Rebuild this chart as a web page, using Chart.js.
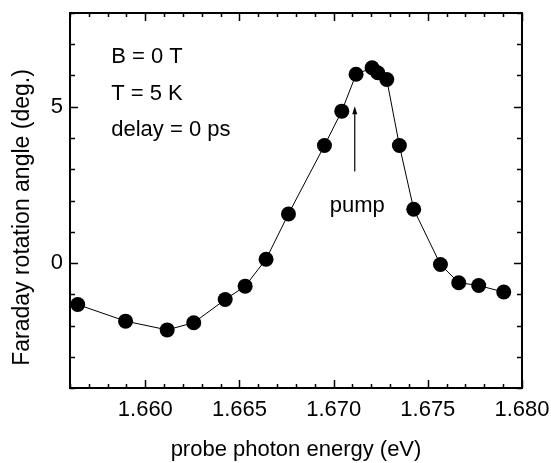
<!DOCTYPE html>
<html>
<head>
<meta charset="utf-8">
<script src="https://cdn.jsdelivr.net/npm/chart.js@4.4.0/dist/chart.umd.min.js"></script>
<style>
  html, body { margin: 0; padding: 0; background: #fff; }
  #wrap { width: 551px; height: 463px; }
</style>
</head>
<body>
<div id="wrap"><canvas id="faradayChart"></canvas></div>
<script>
// probe photon energy (eV)
var energy = [1.65641, 1.65895, 1.66116, 1.66257, 1.66424, 1.66530, 1.66641, 1.66760,
              1.66951, 1.67043, 1.67119, 1.67204, 1.67234, 1.67282, 1.67349, 1.67425,
              1.67567, 1.67664, 1.67770, 1.67903];
// Faraday rotation angle (deg.)
var rotation = [-1.33, -1.86, -2.14, -1.91, -1.17, -0.74, 0.12, 1.57,
                3.76, 4.86, 6.04, 6.25, 6.09, 5.87, 3.76, 1.72,
                -0.05, -0.63, -0.72, -0.93];

var xTicks = [1.660, 1.665, 1.670, 1.675, 1.680];
var yTicks = [0, 5];
var infoLines = ["B = 0 T", "T = 5 K", "delay = 0 ps"];
var pumpEnergy = 1.67112;
var yTitle = 'Faraday rotation angle (deg.)';

var FONT = "'Liberation Sans', Arial, Helvetica, sans-serif";

// frame, inward ticks and annotations
var framePlugin = {
    id: 'frame',
    afterDraw: function (chart) {
        var ctx = chart.ctx;
        var a = chart.chartArea;
        var xs = chart.scales.x, ys = chart.scales.y;
        ctx.save();
        ctx.strokeStyle = '#000';

        // ticks
        ctx.lineWidth = 1.5;
        ctx.beginPath();
        for (var i = 0; i <= 24; i++) {
            var v = 1.656 + i * 0.001;
            var px = Math.round(xs.getPixelForValue(v)) + 0.5;
            var major = (Math.round(v * 1000) % 5 === 0);
            var len = major ? 8 : 4;
            ctx.moveTo(px, a.bottom); ctx.lineTo(px, a.bottom - len);
            ctx.moveTo(px, a.top); ctx.lineTo(px, a.top + len);
        }
        for (var j = -4; j <= 8; j++) {
            var py = Math.round(ys.getPixelForValue(j)) + 0.5;
            var len2 = (j % 5 === 0) ? 8 : 5;
            ctx.moveTo(a.left, py); ctx.lineTo(a.left + len2, py);
            ctx.moveTo(a.right, py); ctx.lineTo(a.right - len2, py);
        }
        ctx.stroke();

        // frame
        ctx.lineWidth = 2;
        ctx.strokeRect(a.left, a.top, a.right - a.left, a.bottom - a.top);

        // pump arrow
        var ax = xs.getPixelForValue(pumpEnergy);
        var yTop = ys.getPixelForValue(5.02);
        var yBot = ys.getPixelForValue(2.93);
        ctx.lineWidth = 1.2;
        ctx.beginPath();
        ctx.moveTo(ax, yBot); ctx.lineTo(ax, yTop + 6);
        ctx.stroke();
        ctx.fillStyle = '#000';
        ctx.beginPath();
        ctx.moveTo(ax, yTop);
        ctx.lineTo(ax - 2.5, yTop + 8);
        ctx.lineTo(ax + 2.5, yTop + 8);
        ctx.closePath();
        ctx.fill();

        // texts
        ctx.font = '22px ' + FONT;
        ctx.textBaseline = 'alphabetic';
        ctx.textAlign = 'center';
        ctx.fillText('pump', xs.getPixelForValue(1.67125), ys.getPixelForValue(1.62));
        ctx.textAlign = 'left';
        var tx = xs.getPixelForValue(1.65819);
        for (var k = 0; k < infoLines.length; k++) {
            ctx.fillText(infoLines[k], tx, ys.getPixelForValue(6.41 - k * 1.18));
        }

        // y axis title (sits a bit below the plot centre in the original)
        ctx.translate(22.5, (a.top + a.bottom) / 2 + 17);
        ctx.rotate(-Math.PI / 2);
        ctx.font = '23px ' + FONT;
        ctx.textAlign = 'center';
        ctx.textBaseline = 'middle';
        ctx.fillText(yTitle, 0, 0);
        ctx.restore();
    }
};

var ctx = document.getElementById('faradayChart').getContext('2d');

var chart = new Chart(ctx, {
    type: 'line',
    data: {
        datasets: [{
            data: energy.map(function (e, i) { return { x: e, y: rotation[i] }; }),
            borderColor: '#000',
            borderWidth: 1,
            backgroundColor: '#000',
            pointBackgroundColor: '#000',
            pointBorderColor: '#000',
            pointRadius: 7.5,
            pointBorderWidth: 0,
            tension: 0,
            fill: false
        }]
    },
    options: {
        responsive: true,
        maintainAspectRatio: false,
        animation: false,
        events: [],
        layout: { padding: { top: 13, right: 29, left: 0, bottom: 0 } },
        plugins: {
            legend: { display: false },
            tooltip: { enabled: false }
        },
        scales: {
            x: {
                type: 'linear',
                min: 1.656,
                max: 1.680,
                grid: { display: false, drawTicks: false },
                border: { display: false },
                afterBuildTicks: function (scale) {
                    scale.ticks = xTicks.map(function (v) { return { value: v }; });
                },
                afterFit: function (scale) {
                    scale.height = 75;
                    scale.paddingLeft = 0;
                    scale.paddingRight = 0;
                },
                ticks: {
                    color: '#000',
                    padding: 9,
                    maxRotation: 0,
                    autoSkip: false,
                    font: { size: 22, family: FONT },
                    callback: function (v) { return Number(v).toFixed(3); }
                },
                title: {
                    display: true,
                    text: 'probe photon energy (eV)',
                    color: '#000',
                    padding: { top: 0, bottom: 0 },
                    font: { size: 22, family: FONT, lineHeight: 1.2 }
                }
            },
            y: {
                min: -4,
                max: 8,
                grid: { display: false, drawTicks: false },
                border: { display: false },
                afterBuildTicks: function (scale) {
                    scale.ticks = yTicks.map(function (v) { return { value: v }; });
                },
                afterFit: function (scale) {
                    scale.width = 70;
                    scale.paddingTop = 0;
                    scale.paddingBottom = 0;
                },
                ticks: {
                    color: '#000',
                    padding: 7,
                    font: { size: 22, family: FONT }
                },
                title: { display: false }
            }
        }
    },
    plugins: [framePlugin]
});
</script>
</body>
</html>
